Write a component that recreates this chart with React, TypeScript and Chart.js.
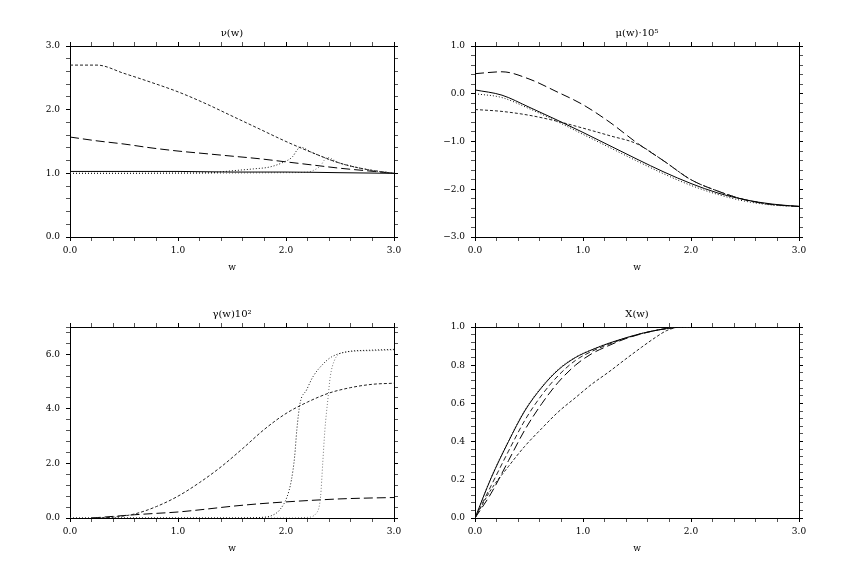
import React, { useEffect, useRef } from 'react';
import { Chart, registerables } from 'chart.js';
Chart.register(...registerables);

const FONT = '"DejaVu Serif", "Liberation Serif", serif';

// common w grid
const W13 = [0, 0.25, 0.5, 0.75, 1.0, 1.25, 1.5, 1.75, 2.0, 2.25, 2.5, 2.75, 3.0];

// nu(w)
const nuSolidW = [0, 0.5, 1.0, 1.5, 2.0, 2.5, 3.0];
const nuSolid = [1.03, 1.03, 1.03, 1.02, 1.02, 1.01, 1.0];
const nuShort = [2.7, 2.7, 2.57, 2.43, 2.28, 2.1, 1.9, 1.7, 1.5, 1.32, 1.16, 1.06, 1.0];
const nuLong = [1.57, 1.51, 1.46, 1.4, 1.35, 1.31, 1.27, 1.23, 1.18, 1.13, 1.08, 1.04, 1.0];
const nuDotAW = [0, 0.5, 1.0, 1.3, 1.5, 1.7, 1.85, 1.97, 2.06, 2.1, 2.13, 2.25, 2.5, 2.75, 3.0];
const nuDotA = [1.0, 1.0, 1.005, 1.01, 1.04, 1.07, 1.1, 1.17, 1.26, 1.36, 1.41, 1.32, 1.16, 1.06, 1.0];
const nuDotBW = [0, 1.0, 2.0, 2.2, 2.27, 2.32, 2.36, 2.38, 2.5, 2.75, 3.0];
const nuDotB = [1.0, 1.0, 1.01, 1.02, 1.06, 1.12, 1.22, 1.25, 1.16, 1.06, 1.0];

// mu(w) 10^5
const muSolid = [0.08, -0.03, -0.28, -0.54, -0.81, -1.09, -1.37, -1.64, -1.88, -2.08, -2.22, -2.31, -2.36];
const muDot = [0.0, -0.08, -0.31, -0.57, -0.85, -1.13, -1.41, -1.68, -1.92, -2.11, -2.25, -2.33, -2.36];
const muLong = [0.42, 0.46, 0.31, 0.05, -0.23, -0.6, -1.03, -1.41, -1.8, -2.04, -2.22, -2.32, -2.36];
const muShort = [-0.33, -0.37, -0.45, -0.57, -0.72, -0.88, -1.05, -1.41, -1.8, -2.04, -2.22, -2.32, -2.36];

// gamma(w) 10^2
const gamShortW = [0.2, 0.4, 0.6, 0.8, 1.0, 1.2, 1.4, 1.6, 1.8, 2.0, 2.2, 2.4, 2.6, 2.8, 3.0];
const gamShort = [0, 0.03, 0.15, 0.42, 0.8, 1.3, 1.88, 2.55, 3.25, 3.83, 4.25, 4.58, 4.78, 4.9, 4.94];
const gamLongW = [0.2, 0.4, 0.6, 0.8, 1.0, 1.25, 1.5, 1.75, 2.0, 2.25, 2.5, 2.75, 3.0];
const gamLong = [0, 0.06, 0.12, 0.17, 0.22, 0.32, 0.43, 0.52, 0.59, 0.65, 0.7, 0.73, 0.75];
const gamDotAW = [0, 1.5, 1.8, 1.88, 1.94, 2.01, 2.05, 2.08, 2.1, 2.13, 2.19, 2.25, 2.35, 2.42, 2.56, 2.78, 3.0];
const gamDotA = [0, 0, 0.03, 0.11, 0.29, 0.78, 1.39, 2.25, 3.22, 4.2, 4.69, 5.18, 5.67, 5.9, 6.09, 6.15, 6.18];
const gamDotBW = [0, 2.0, 2.19, 2.28, 2.32, 2.34, 2.36, 2.39, 2.41, 2.45, 2.53, 2.78, 3.0];
const gamDotB = [0, 0, 0.02, 0.17, 0.78, 2.0, 3.22, 4.44, 5.18, 5.79, 6.06, 6.13, 6.16];

// X(w)
const xsW = [0, 0.15, 0.31, 0.46, 0.62, 0.77, 0.93, 1.08, 1.24, 1.39, 1.54, 1.7, 1.85, 2.0];
const xsSolid = [0, 0.21, 0.4, 0.56, 0.685, 0.775, 0.84, 0.88, 0.915, 0.942, 0.966, 0.985, 0.997, 1.0];
const xsDot = [0, 0.215, 0.405, 0.565, 0.69, 0.78, 0.843, 0.882, 0.916, 0.943, 0.966, 0.985, 0.997, 1.0];
const xsMid = [0, 0.17, 0.35, 0.51, 0.645, 0.745, 0.825, 0.872, 0.91, 0.94, 0.965, 0.985, 0.997, 1.0];
const xsLong = [0, 0.13, 0.3, 0.46, 0.6, 0.71, 0.8, 0.86, 0.903, 0.938, 0.964, 0.985, 0.997, 1.0];
const xsShortW = [0, 0.15, 0.31, 0.46, 0.62, 0.77, 0.93, 1.08, 1.24, 1.39, 1.54, 1.67, 1.77, 1.87];
const xsShort = [0, 0.15, 0.27, 0.375, 0.47, 0.555, 0.63, 0.7, 0.765, 0.83, 0.893, 0.945, 0.98, 1.0];

const STYLES: Record<string, { dash: number[]; color: string }> = {
  solid: { dash: [], color: '#000' },
  dotA: { dash: [1, 2], color: '#111' },
  dotB: { dash: [1, 2], color: '#777' },
  short: { dash: [3, 2], color: '#222' },
  mid: { dash: [5, 3], color: '#222' },
  long: { dash: [9, 4], color: '#000' },
};

type Series = { xs: number[]; ys: number[]; style: string };

const LEFT_W = 60;
const RIGHT_W = 30;
const TOP_H = 26;
const BOTTOM_H = 42;
const PLOT_W = 324;
const PLOT_H = 191;
const CW = PLOT_W + LEFT_W + RIGHT_W;
const CH = PLOT_H + TOP_H + BOTTOM_H;

const near = (v: number, step: number) => Math.abs(v / step - Math.round(v / step)) < 1e-6;
const fmt = (v: number) => {
  const r = Math.round(v * 10) / 10;
  if (r < 0) return '\u2212' + Math.abs(r).toFixed(1);
  return Math.abs(r).toFixed(1);
};

function axis(min: number, max: number, step: number, major: number, size: number, horizontal: boolean, pos: string, labels: boolean, title?: any) {
  return {
    type: 'linear' as const,
    position: pos,
    min,
    max,
    bounds: 'data' as const,
    grid: {
      drawOnChartArea: false,
      drawTicks: true,
      tickLength: 4,
      tickWidth: 1,
      tickColor: (ctx: any) => (near(ctx.tick.value, major) ? '#000' : '#555'),
    },
    border: { display: true, color: '#000', width: 1 },
    ticks: {
      display: labels,
      stepSize: step,
      autoSkip: false,
      maxRotation: 0,
      minRotation: 0,
      includeBounds: false,
      padding: horizontal ? 4 : 6,
      color: '#000',
      font: { family: FONT, size: 9 },
      callback: (v: any) => (near(Number(v), major) ? fmt(Number(v)) : ''),
    },
    title: title || { display: false },
    afterFit: (s: any) => {
      if (horizontal) s.height = size;
      else s.width = size;
    },
  };
}

type PanelProps = {
  left: number;
  top: number;
  title: string;
  yMin: number;
  yMax: number;
  yStep: number;
  yMajor: number;
  series: Series[];
};

const Panel: React.FC<PanelProps> = (p) => {
  const ref = useRef<HTMLCanvasElement>(null);

  useEffect(() => {
    if (!ref.current) return;
    const chart = new Chart(ref.current, {
      type: 'line',
      data: {
        datasets: p.series.map((s) => ({
          data: s.xs.map((x, i) => ({ x, y: s.ys[i] })),
          borderColor: STYLES[s.style].color,
          borderDash: STYLES[s.style].dash,
          borderWidth: 1,
          pointRadius: 0,
          fill: false,
          cubicInterpolationMode: 'monotone' as const,
          xAxisID: 'x',
          yAxisID: 'y',
        })),
      },
      options: {
        responsive: false,
        maintainAspectRatio: false,
        animation: false,
        layout: { padding: 0 },
        plugins: { legend: { display: false }, tooltip: { enabled: false } },
        scales: {
          x: axis(0, 3, 0.2, 1, BOTTOM_H, true, 'bottom', true, {
            display: true,
            text: 'w',
            color: '#000',
            font: { family: FONT, size: 9 },
            padding: { top: 0, bottom: 6 },
          }),
          xt: axis(0, 3, 0.2, 1, TOP_H, true, 'top', false, {
            display: true,
            text: p.title,
            color: '#000',
            font: { family: FONT, size: 10 },
            padding: { top: 7, bottom: 0 },
          }),
          y: axis(p.yMin, p.yMax, p.yStep, p.yMajor, LEFT_W, false, 'left', true),
          yr: axis(p.yMin, p.yMax, p.yStep, p.yMajor, RIGHT_W, false, 'right', false),
        } as any,
      },
    });
    return () => {
      chart.destroy();
    };
  }, []);

  return (
    <canvas
      ref={ref}
      width={CW}
      height={CH}
      style={{ position: 'absolute', left: p.left, top: p.top, width: CW, height: CH }}
    />
  );
};

const App: React.FC = () => {
  return (
    <div style={{ position: 'absolute', left: 0, top: 0, width: 862, height: 575, background: '#fff' }}>
      <Panel
        left={10}
        top={20}
        title={'\u03BD(w)'}
        yMin={0}
        yMax={3}
        yStep={0.2}
        yMajor={1}
        series={[
          { xs: nuSolidW, ys: nuSolid, style: 'solid' },
          { xs: nuDotAW, ys: nuDotA, style: 'dotA' },
          { xs: nuDotBW, ys: nuDotB, style: 'dotB' },
          { xs: W13, ys: nuShort, style: 'short' },
          { xs: W13, ys: nuLong, style: 'long' },
        ]}
      />
      <Panel
        left={415}
        top={20}
        title={'\u03BC(w)\u00B710\u2075'}
        yMin={-3}
        yMax={1}
        yStep={0.2}
        yMajor={1}
        series={[
          { xs: W13, ys: muSolid, style: 'solid' },
          { xs: W13, ys: muDot, style: 'dotA' },
          { xs: W13, ys: muShort, style: 'short' },
          { xs: W13, ys: muLong, style: 'long' },
        ]}
      />
      <Panel
        left={10}
        top={301}
        title={'\u03B3(w)10\u00B2'}
        yMin={0}
        yMax={7}
        yStep={0.4}
        yMajor={2}
        series={[
          { xs: gamDotAW, ys: gamDotA, style: 'dotA' },
          { xs: gamDotBW, ys: gamDotB, style: 'dotB' },
          { xs: gamShortW, ys: gamShort, style: 'short' },
          { xs: gamLongW, ys: gamLong, style: 'long' },
        ]}
      />
      <Panel
        left={415}
        top={301}
        title={'X(w)'}
        yMin={0}
        yMax={1}
        yStep={0.04}
        yMajor={0.2}
        series={[
          { xs: xsW, ys: xsSolid, style: 'solid' },
          { xs: xsW, ys: xsDot, style: 'dotB' },
          { xs: xsW, ys: xsMid, style: 'mid' },
          { xs: xsW, ys: xsLong, style: 'long' },
          { xs: xsShortW, ys: xsShort, style: 'short' },
        ]}
      />
    </div>
  );
};

export default App;
